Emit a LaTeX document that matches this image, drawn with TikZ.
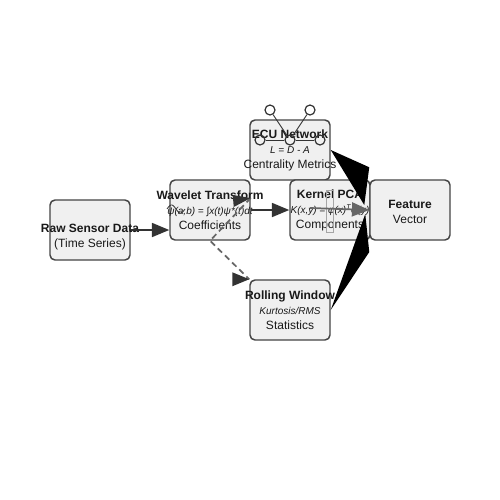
\documentclass[tikz,border=0pt]{standalone}
\usepackage{fontspec}
\setmainfont{Liberation Sans}
\usetikzlibrary{arrows.meta,calc}
\definecolor{boxfill}{HTML}{F0F0F0}
\definecolor{boxline}{HTML}{444444}
\definecolor{inkdark}{HTML}{333333}
\definecolor{inkgray}{HTML}{666666}
\tikzset{
  stage/.style={draw=boxline, fill=boxfill, line width=1.1pt, rounded corners=3.75pt,
    minimum width=60pt, minimum height=45pt, align=center, inner sep=0pt,
    text=black!90, font=\fontsize{9}{11.25}\selectfont},
  flow/.style={draw=inkdark, line width=1.3pt, -{Triangle[length=13pt,width=10.5pt]}},
  ecudot/.style={circle, draw=inkdark, line width=0.9pt, minimum size=7.5pt, inner sep=0pt},
  ecuedge/.style={draw=inkdark, line width=0.7pt},
}
\newcommand{\ttl}[1]{\makebox[0pt]{\textbf{#1}}}
\newcommand{\eqn}[1]{\makebox[0pt]{\fontsize{7.5}{9}\selectfont\itshape #1}}
\newcommand{\txt}[1]{\makebox[0pt]{#1}}

\begin{document}
\begin{tikzpicture}[x=0.75pt, y=-0.75pt]
    \useasboundingbox (0,0) rectangle (500,500);
    % stages
    \node [stage] (raw) at (90,230) {\raisebox{-5.25pt}[\height][\depth]{\begin{tabular}{@{}c@{}}\ttl{Raw Sensor Data}\\\txt{(Time Series)}\end{tabular}}};
    \node [stage] (wav) at (210,210) {\ttl{Wavelet Transform}\\\eqn{ψ(a,b) = ∫x(t)ψ*(t)dt}\\\txt{Coefficients}};
    \node [stage] (ecu) at (290,150) {\ttl{ECU Network}\\\eqn{L = D - A}\\\txt{Centrality Metrics}};
    \node [stage] (ker) at (330,210) {\ttl{Kernel PCA}\\\eqn{K(x,y) = φ(x)\textsuperscript{T}φ(y)}\\\txt{Components}};
    \node [stage] (feat) at (410,210) {\raisebox{-2.25pt}[\height][\depth]{\begin{tabular}{@{}c@{}}\ttl{Feature}\\\txt{Vector}\end{tabular}}};
    \node [stage] (roll) at (290,310) {\ttl{Rolling Window}\\\eqn{Kurtosis/RMS}\\\txt{Statistics}};
    % little graph on the ECU box
    \node [ecudot] (e1) at (270,110) {};
    \node [ecudot] (e2) at (310,110) {};
    \node [ecudot] (e3) at (260,140) {};
    \node [ecudot] (e4) at (290,140) {};
    \node [ecudot] (e5) at (320,140) {};
    \draw [ecuedge] (e1) -- (e4);
    \draw [ecuedge] (e2) -- (e4);
    \draw [ecuedge] (e3) -- (e4) -- (e5);
    % wave on the wavelet box
    \draw [inkdark, line width=0.6pt, domain=0:2, samples=30] plot ({167+9*\x}, {209-4*sin(\x*180)});
    % kernel matrix
    \draw [black!35, line width=0.5pt] (326,190) rectangle (333,232);
    % connectors
    \draw [flow] (raw.east) -- (raw.east -| wav.west);
    \draw [flow] (wav.east) -- (ker.west);
    \draw [flow, draw=inkgray] ($(ker.center)+(-20,-2)$) -- (feat.west);
    \draw [inkgray, line width=1.3pt, dash pattern=on 4.5pt off 3pt] ($(wav.east)+(0,-12)$) -- (wav.south) -- (roll.north west);
    \fill [inkdark] ($(wav.east)+(0,-12)$) -- ++(-18,-3) -- ++(1,12) -- cycle;
    \fill [inkdark] (roll.north west) -- ++(-17,-7) -- ++(0,14) -- cycle;
    \fill [black] (ecu.east) -- ($(feat.north west)+(0,-12)$) -- ($(feat.west)+(-5,-5)$) -- cycle;
    \fill [black] (roll.east) -- ($(feat.west)+(-4,4)$) -- ($(feat.west)+(0,42)$) -- cycle;
\end{tikzpicture}
\end{document}
